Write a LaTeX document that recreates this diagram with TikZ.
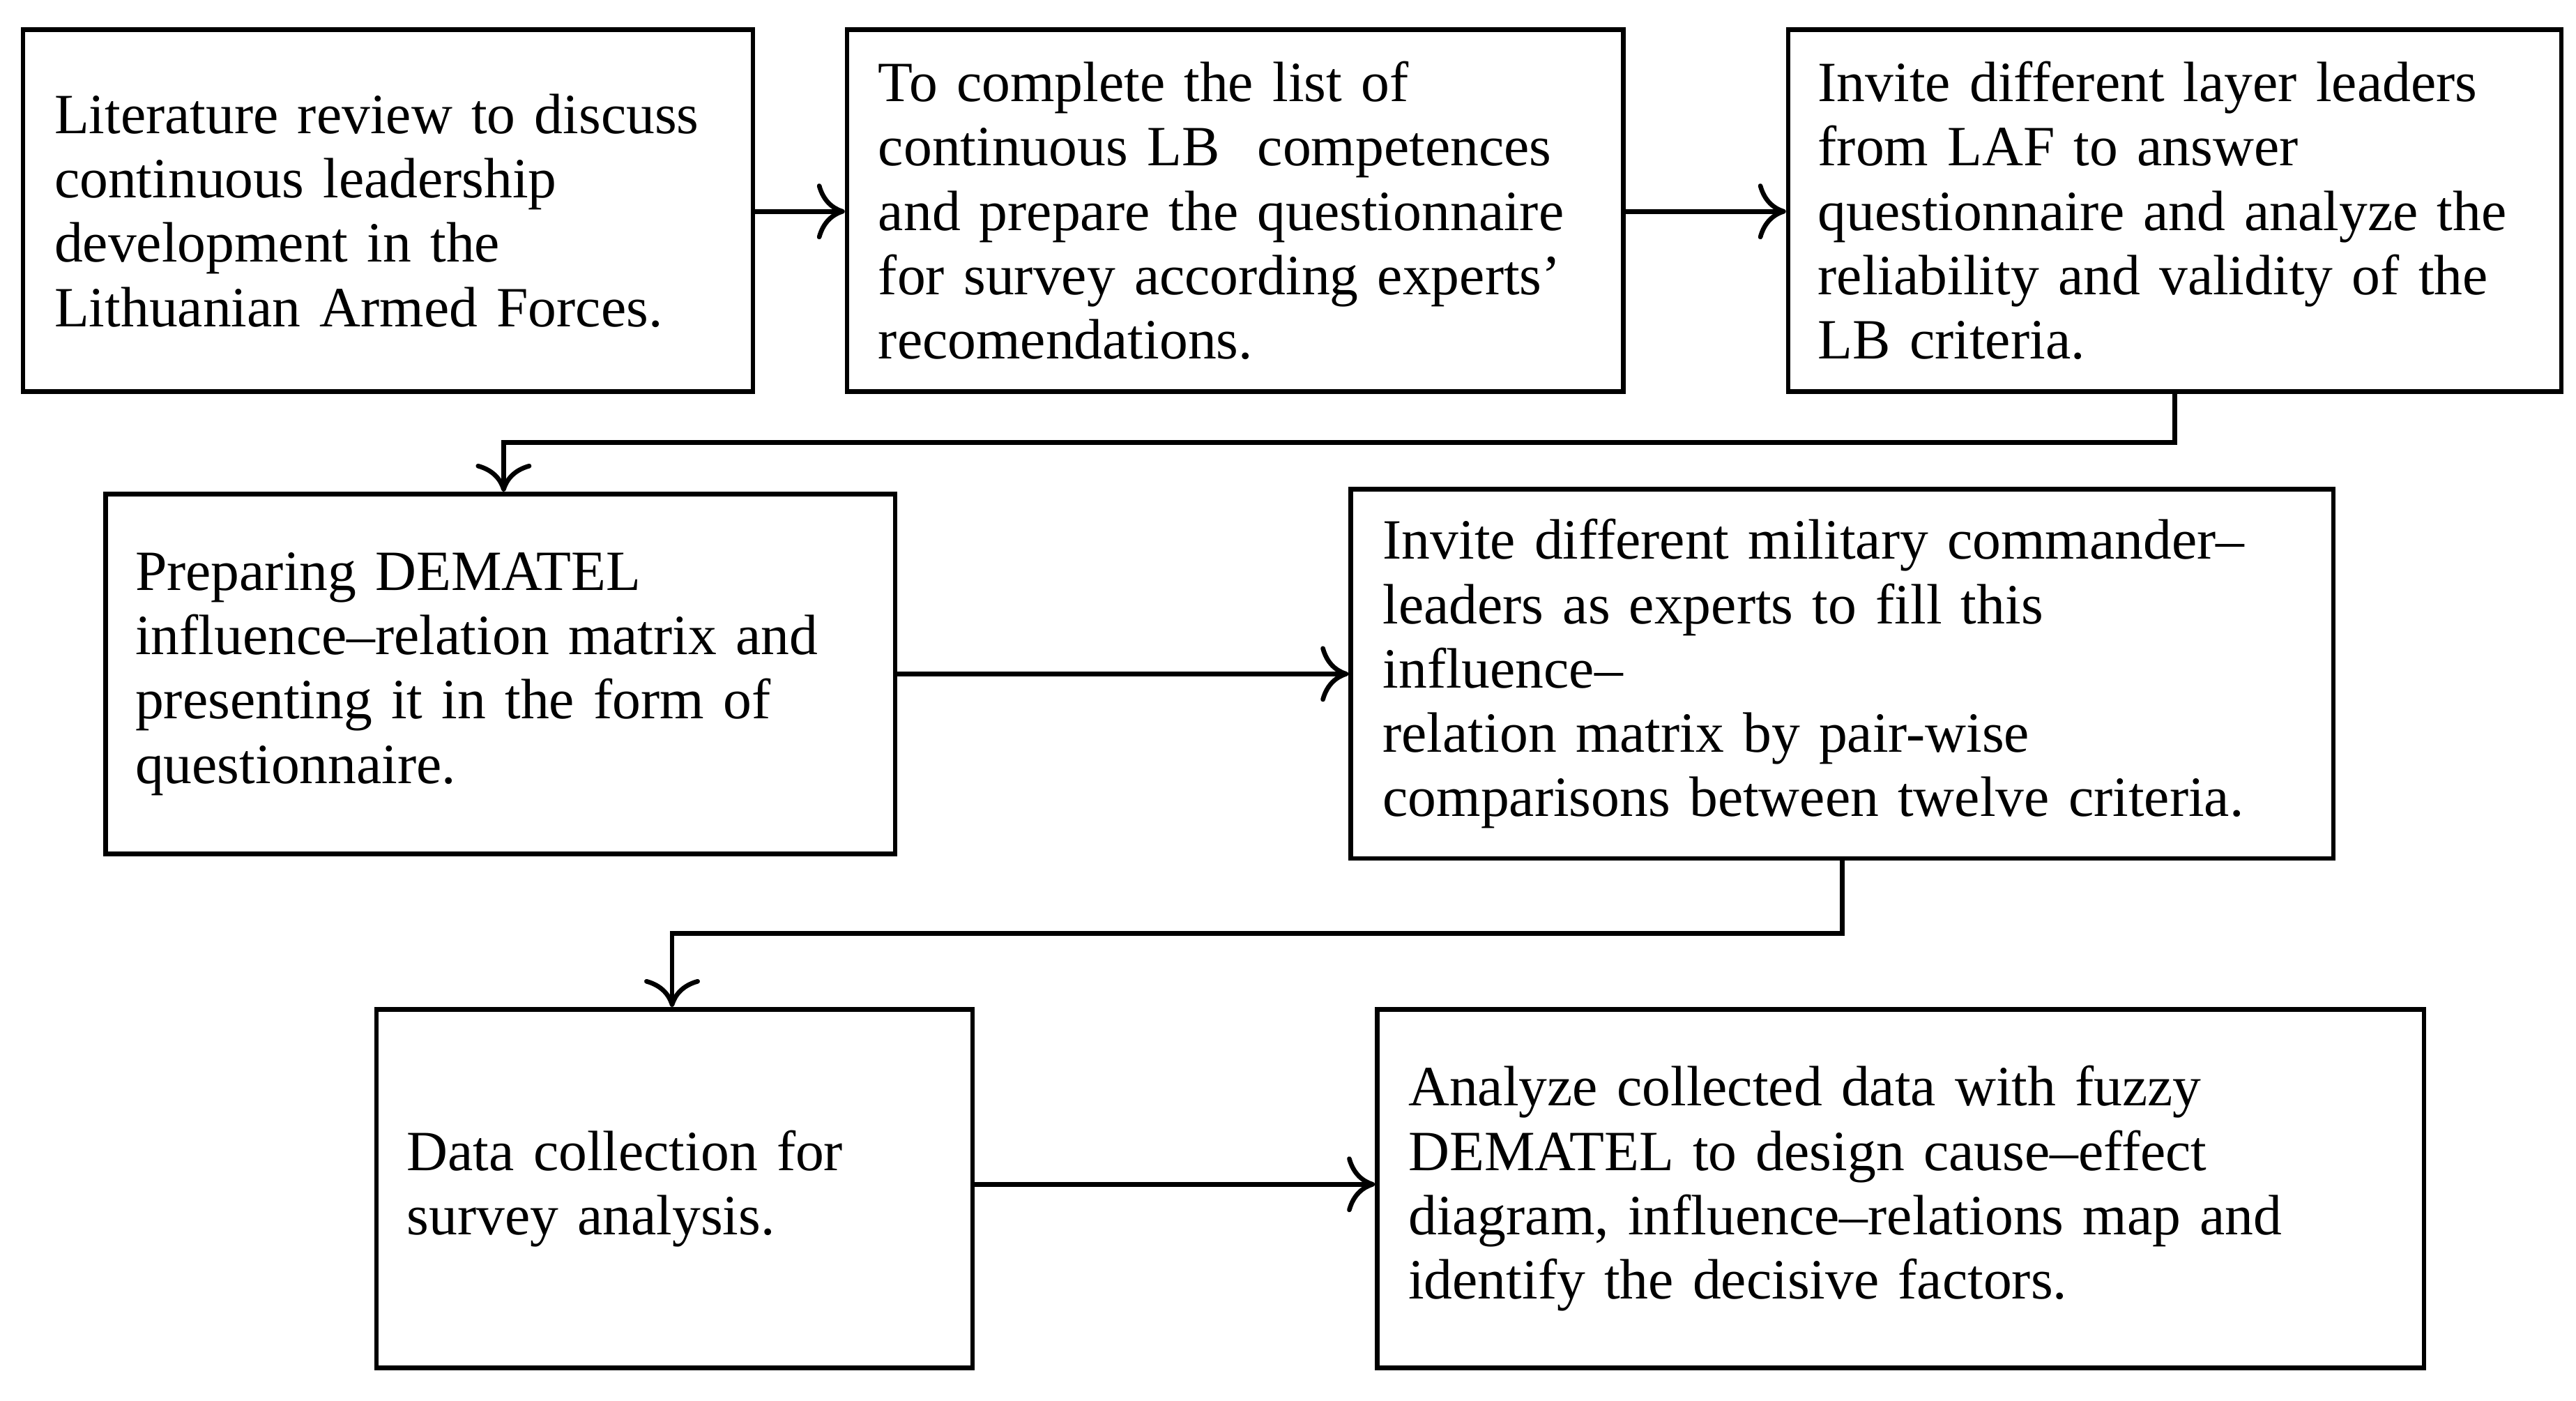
\documentclass[tikz,border=0pt]{standalone}
\usepackage{fontspec}
\setmainfont{Liberation Serif}
\usetikzlibrary{arrows.meta,positioning}

\begin{document}
\begin{tikzpicture}[x=0.025cm,y=-0.025cm,
  stage/.style={rectangle,draw,line width=2pt,align=left,inner sep=0.45cm,font=\fontsize{24.5}{27.7}\selectfont},
  flow/.style={-{To[length=12pt,width=24pt,line width=2pt]},line width=2pt}]
\useasboundingbox (0,0) rectangle (1560,848);
% Steps
\node[stage,minimum width=442*0.025cm,minimum height=219*0.025cm,text width=10.1cm] (review) at (235,127.5) {Literature review to discuss\\ continuous leadership\\ development in the\\ Lithuanian Armed Forces.};
\node[stage,minimum width=470*0.025cm,minimum height=219*0.025cm,text width=10.8cm] (prepare) at (748,127.5) {To complete the list of\\ continuous LB\ \ competences\\ and prepare the questionnaire\\ for survey according experts'\\ recomendations.};
\node[stage,minimum width=468*0.025cm,minimum height=219*0.025cm,text width=10.8cm] (invite) at (1317,127.5) {Invite different layer leaders\\ from LAF to answer\\ questionnaire and analyze the\\ reliability and validity of the\\ LB criteria.};
\node[stage,minimum width=478*0.025cm,minimum height=218*0.025cm,text width=11.05cm] (matrix) at (303,408) {Preparing DEMATEL\\ influence--relation matrix and\\ presenting it in the form of\\ questionnaire.};
\node[stage,minimum width=595*0.025cm,minimum height=218*0.025cm,text width=13.9cm] (experts) at (1115.5,408) {Invite different military commander--\\ leaders as experts to fill this influence--\\ relation matrix by pair-wise\\ comparisons between twelve criteria.};
\node[stage,minimum width=361*0.025cm,minimum height=217*0.025cm,text width=8.1cm] (collect) at (408.5,719.5) {Data collection for\\ survey analysis.};
\node[stage,minimum width=634*0.025cm,minimum height=217*0.025cm,text width=14.9cm] (analyze) at (1151,719.5) {Analyze collected data with fuzzy\\ DEMATEL to design cause--effect\\ diagram, influence--relations map and\\ identify the decisive factors.};

% Arrows
\draw[flow] (review.east |- 0,128) -- (prepare.west |- 0,128);
\draw[flow] (prepare.east |- 0,128) -- (invite.west |- 0,128);
\draw[flow] (invite.south) |- (305,268) -- (matrix.north -| 305,0);
\draw[flow] (matrix) -- (experts);
\draw[flow] (experts.south) |- (407,565) -- (collect.north -| 407,0);
\draw[flow] (collect.east |- 0,717) -- (analyze.west |- 0,717);
\end{tikzpicture}
\end{document}
